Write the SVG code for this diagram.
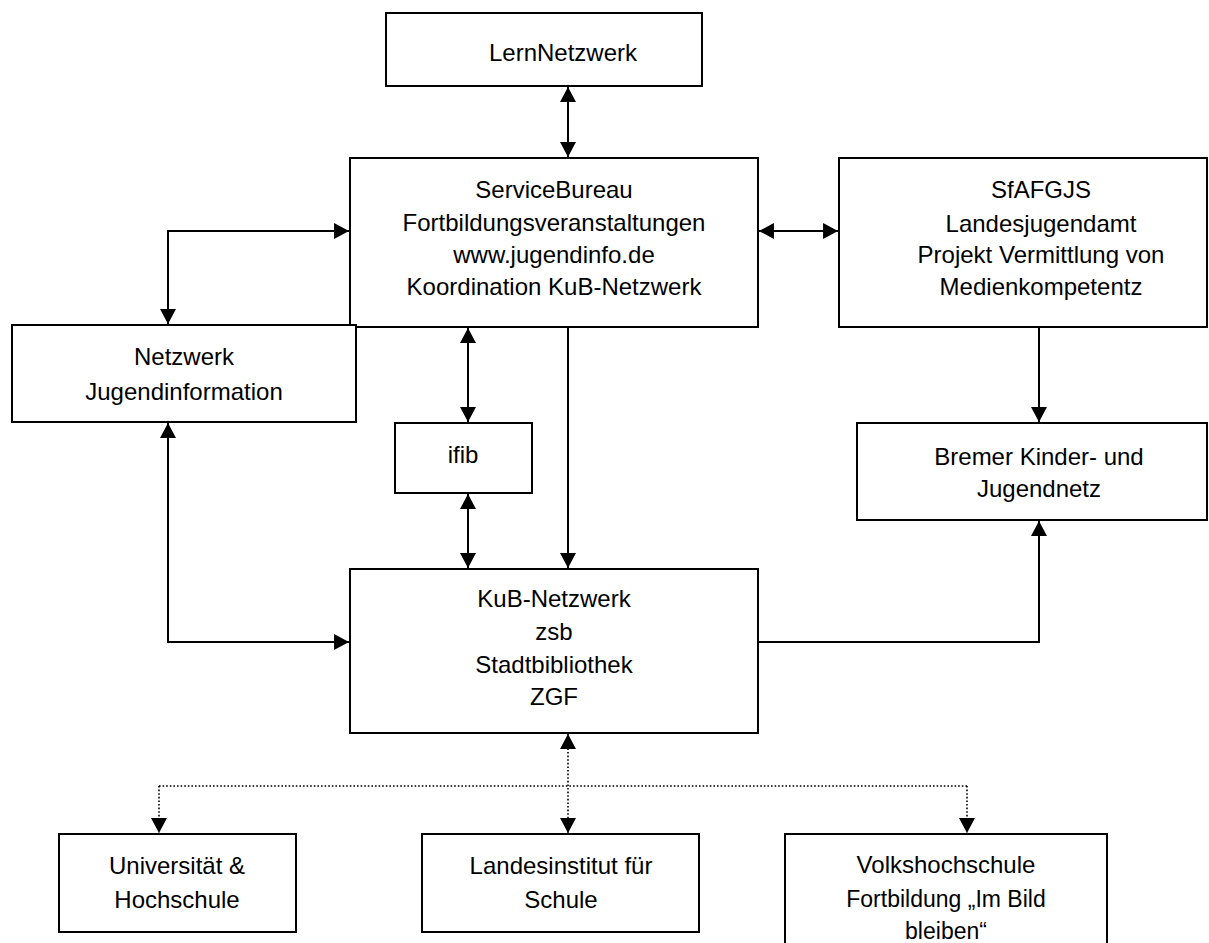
<svg xmlns="http://www.w3.org/2000/svg" width="1209" height="943" viewBox="0 0 1209 943">
<defs>
<style>
.box{fill:#fff;stroke:#000;stroke-width:2}
.t{font-family:"Liberation Sans",Arial,sans-serif;font-size:24px;fill:#000;text-anchor:middle}
.s{font-size:23px}
.c{fill:none;stroke:#000;stroke-width:2}
.d{fill:none;stroke:#000;stroke-width:1.6;stroke-dasharray:1.6 2}
</style>
<marker id="ah" markerUnits="userSpaceOnUse" markerWidth="16" markerHeight="16" viewBox="0 0 14 15" refX="14" refY="7.5" orient="auto-start-reverse">
<path d="M0,0 L14,7.5 L0,15 z" fill="#000"/>
</marker>
</defs>
<rect width="1209" height="943" fill="#fff"/>
<g id="connectors">
<path class="c" d="M568,87 V157" marker-start="url(#ah)" marker-end="url(#ah)"/>
<path class="c" d="M759,231 H838" marker-start="url(#ah)" marker-end="url(#ah)"/>
<path class="c" d="M168,324 V231 H349" marker-start="url(#ah)" marker-end="url(#ah)"/>
<path class="c" d="M468,328 V422" marker-start="url(#ah)" marker-end="url(#ah)"/>
<path class="c" d="M468,494 V568" marker-start="url(#ah)" marker-end="url(#ah)"/>
<path class="c" d="M568,327 V568" marker-end="url(#ah)"/>
<path class="c" d="M1039,327 V422" marker-end="url(#ah)"/>
<path class="c" d="M758,642 H1039 V521" marker-end="url(#ah)"/>
<path class="c" d="M168,423 V642 H349" marker-start="url(#ah)" marker-end="url(#ah)"/>
<path class="d" d="M568,734 V833" marker-start="url(#ah)" marker-end="url(#ah)"/>
<path class="d" d="M159,786 H967"/>
<path class="d" d="M159,786 V833" marker-end="url(#ah)"/>
<path class="d" d="M967,786 V833" marker-end="url(#ah)"/>
</g>
<g id="lernnetzwerk">
<rect class="box" x="386" y="13" width="316" height="73"/>
<text class="t" x="563" y="61">LernNetzwerk</text>
</g>
<g id="servicebureau">
<rect class="box" x="350" y="158" width="408" height="169"/>
<text class="t" x="554" y="198">ServiceBureau</text>
<text class="t" x="554" y="231">Fortbildungsveranstaltungen</text>
<text class="t" x="554" y="263">www.jugendinfo.de</text>
<text class="t" x="554" y="295">Koordination KuB-Netzwerk</text>
</g>
<g id="sfafgjs">
<rect class="box" x="839" y="158" width="368" height="169"/>
<text class="t" x="1041" y="198">SfAFGJS</text>
<text class="t" x="1041" y="232">Landesjugendamt</text>
<text class="t" x="1041" y="263">Projekt Vermittlung von</text>
<text class="t" x="1041" y="295">Medienkompetentz</text>
</g>
<g id="netzwerk-jugendinformation">
<rect class="box" x="12" y="325" width="344" height="97"/>
<text class="t" x="184" y="365">Netzwerk</text>
<text class="t" x="184" y="400">Jugendinformation</text>
</g>
<g id="ifib">
<rect class="box" x="395" y="423" width="137" height="70"/>
<text class="t" x="463" y="463">ifib</text>
</g>
<g id="bremer">
<rect class="box" x="857" y="423" width="350" height="97"/>
<text class="t" x="1039" y="465">Bremer Kinder- und</text>
<text class="t" x="1039" y="497">Jugendnetz</text>
</g>
<g id="kub-netzwerk">
<rect class="box" x="350" y="569" width="408" height="164"/>
<text class="t" x="554" y="607">KuB-Netzwerk</text>
<text class="t" x="554" y="640">zsb</text>
<text class="t" x="554" y="673">Stadtbibliothek</text>
<text class="t" x="554" y="705">ZGF</text>
</g>
<g id="universitaet">
<rect class="box" x="59" y="834" width="237" height="98"/>
<text class="t" x="177" y="874">Universität &amp;</text>
<text class="t" x="177" y="908">Hochschule</text>
</g>
<g id="landesinstitut">
<rect class="box" x="422" y="834" width="277" height="98"/>
<text class="t" x="561" y="874">Landesinstitut für</text>
<text class="t" x="561" y="908">Schule</text>
</g>
<g id="volkshochschule">
<rect class="box" x="785" y="834" width="322" height="130"/>
<text class="t" x="946" y="873">Volkshochschule</text>
<text class="t s" x="946" y="907">Fortbildung „Im Bild</text>
<text class="t s" x="946" y="939">bleiben“</text>
</g>
</svg>
